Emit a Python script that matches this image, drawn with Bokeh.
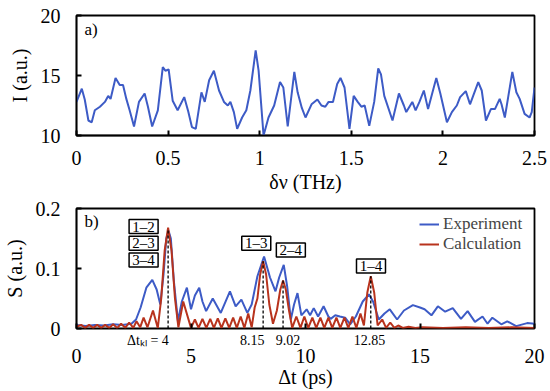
from bokeh.plotting import figure
from bokeh.layouts import column
from bokeh.models import Range1d, FixedTicker, Label, LinearAxis
from bokeh.core.properties import value
from bokeh.embed import file_html
from bokeh.resources import INLINE

FONT = "Liberation Serif"
BLUE = "#3d5bc6"
RED = "#b8331d"

# ---------------- panel a) data ----------------
nu_thz = [0.000, 0.029, 0.045, 0.065, 0.083, 0.100, 0.128, 0.155, 0.173, 0.186,
          0.213, 0.236, 0.254, 0.272, 0.290, 0.314, 0.341, 0.372, 0.390, 0.413,
          0.444, 0.471, 0.485, 0.503, 0.525, 0.552, 0.588, 0.610, 0.630, 0.651,
          0.682, 0.700, 0.724, 0.750, 0.778, 0.805, 0.826, 0.840, 0.859, 0.877,
          0.904, 0.927, 0.949, 0.978, 0.994, 1.021, 1.048, 1.079, 1.111, 1.129,
          1.153, 1.189, 1.207, 1.230, 1.250, 1.283, 1.315, 1.337, 1.358, 1.376,
          1.400, 1.423, 1.441, 1.463, 1.490, 1.513, 1.535, 1.555, 1.573, 1.598,
          1.625, 1.647, 1.662, 1.680, 1.725, 1.760, 1.787, 1.800, 1.833, 1.851,
          1.872, 1.896, 1.919, 1.964, 1.986, 2.022, 2.049, 2.076, 2.094, 2.125,
          2.148, 2.193, 2.212, 2.235, 2.262, 2.284, 2.310, 2.320, 2.338, 2.379,
          2.401, 2.419, 2.446, 2.473, 2.485, 2.500]
intensity = [12.8, 13.9, 13.0, 11.25, 11.1, 12.1, 12.4, 12.8, 13.3, 13.05,
             14.8, 14.2, 14.2, 13.05, 12.1, 10.75, 12.8, 13.5, 12.4, 10.75,
             12.1, 15.7, 15.4, 15.5, 12.9, 12.1, 13.2, 12.0, 10.7, 10.55,
             13.6, 12.8, 14.6, 15.4, 13.75, 12.8, 12.5, 12.8, 11.95, 10.55,
             11.5, 12.1, 13.75, 17.1, 15.4, 10.0, 11.5, 12.5, 14.45, 14.0,
             10.75, 15.3, 13.6, 12.3, 11.5, 12.6, 13.0, 12.5, 12.4, 12.8,
             12.8, 14.3, 14.8, 14.0, 10.55, 13.3, 12.8, 12.4, 12.5, 10.8,
             12.8, 15.6, 15.1, 13.3, 11.25, 13.5, 12.5, 11.95, 12.8, 12.1,
             12.8, 13.75, 12.2, 14.8, 13.5, 11.1, 11.95, 12.5, 13.2, 13.7,
             12.6, 14.45, 13.75, 11.25, 12.2, 12.2, 13.05, 12.6, 11.5, 15.3,
             13.6, 13.05, 11.8, 11.5, 11.95, 14.0]
nu_ticks = [0, 0.5, 1, 1.5, 2, 2.5]
nu_tick_labels = ["0", "0.5", "1", "1.5", "2", "2.5"]
i_ticks = [10, 15, 20]
i_tick_labels = ["10", "15", "20"]

# ---------------- panel b) data ----------------
t_exp = [0.0, 0.4, 0.8, 1.2, 1.6, 2.0, 2.4, 2.6, 2.8, 3.05,
         3.31, 3.50, 3.66, 3.80, 3.92, 4.02, 4.12, 4.25, 4.43, 4.60,
         4.82, 5.00, 5.17, 5.36, 5.50, 5.66, 5.95, 6.30, 6.70, 6.95,
         7.20, 7.46, 7.65, 7.90, 8.19, 8.45, 8.69, 8.85, 9.05, 9.20,
         9.36, 9.50, 9.65, 9.82, 10.05, 10.20, 10.36, 10.55, 10.79, 11.00,
         11.10, 11.30, 11.50, 11.73, 11.95, 12.20, 12.50, 12.77, 12.95, 13.20,
         13.45, 13.68, 14.00, 14.30, 14.69, 15.00, 15.20, 15.50, 15.78, 16.10,
         16.43, 16.79, 17.08, 17.40, 17.73, 17.95, 18.16, 18.55, 18.81, 19.20,
         19.68, 20.0]
s_exp = [0.006, 0.004, 0.006, 0.005, 0.007, 0.006, 0.008, 0.015, 0.035, 0.068,
         0.081, 0.065, 0.040, 0.090, 0.150, 0.163, 0.150, 0.080, 0.012, 0.045,
         0.068, 0.032, 0.055, 0.068, 0.045, 0.029, 0.050, 0.026, 0.062, 0.037,
         0.048, 0.026, 0.040, 0.087, 0.120, 0.085, 0.062, 0.085, 0.106, 0.070,
         0.015, 0.040, 0.059, 0.022, 0.032, 0.022, 0.034, 0.020, 0.037, 0.020,
         0.016, 0.022, 0.020, 0.018, 0.007, 0.020, 0.045, 0.057, 0.045, 0.015,
         0.025, 0.032, 0.015, 0.030, 0.039, 0.035, 0.032, 0.022, 0.037, 0.028,
         0.034, 0.016, 0.029, 0.011, 0.020, 0.008, 0.018, 0.007, 0.012, 0.004,
         0.009, 0.008]

t_calc = [0.0, 0.2, 0.38, 0.55, 0.73, 0.9, 1.08, 1.25, 1.43, 1.6,
          1.78, 1.95, 2.13, 2.3, 2.48, 2.62, 2.78, 2.93, 3.1, 3.34,
          3.55, 3.7, 3.85, 4.0, 4.15, 4.3, 4.45, 4.66, 5.0, 5.17,
          5.33, 5.5, 5.67, 5.84, 6.0, 6.17, 6.33, 6.5, 6.67, 6.84,
          7.0, 7.17, 7.33, 7.5, 7.65, 7.78, 7.9, 8.02, 8.15, 8.28,
          8.42, 8.58, 8.75, 8.9, 9.02, 9.14, 9.28, 9.42, 9.6, 9.78,
          9.95, 10.12, 10.3, 10.47, 10.65, 10.82, 11.0, 11.17, 11.35, 11.52,
          11.7, 11.87, 12.05, 12.22, 12.4, 12.55, 12.7, 12.85, 13.0, 13.15,
          13.35, 13.52, 13.7, 13.88, 14.05, 14.25, 14.5, 14.8, 15.1, 16.0,
          17.0, 18.0, 19.0, 20.0]
s_calc = [0.003, 0.006, 0.001, 0.006, 0.001, 0.006, 0.001, 0.006, 0.001, 0.007,
          0.001, 0.008, 0.001, 0.010, 0.001, 0.012, 0.002, 0.018, 0.002, 0.030,
          0.001, 0.050, 0.130, 0.168, 0.130, 0.050, 0.002, 0.045, 0.001, 0.015,
          0.001, 0.016, 0.001, 0.016, 0.001, 0.017, 0.001, 0.017, 0.001, 0.018,
          0.001, 0.020, 0.001, 0.025, 0.002, 0.035, 0.050, 0.090, 0.112, 0.090,
          0.040, 0.008, 0.030, 0.065, 0.080, 0.065, 0.030, 0.001, 0.020, 0.001,
          0.020, 0.001, 0.018, 0.001, 0.018, 0.001, 0.018, 0.001, 0.018, 0.001,
          0.018, 0.001, 0.020, 0.001, 0.025, 0.005, 0.060, 0.087, 0.060, 0.005,
          0.015, 0.001, 0.010, 0.001, 0.005, 0.001, 0.003, 0.001, 0.002, 0.001,
          0.002, 0.001, 0.002, 0.001]

t_ticks = [0, 5, 10, 15, 20]
t_tick_labels = ["0", "5", "10", "15", "20"]
s_ticks = [0, 0.1, 0.2]
s_tick_labels = ["0", "0.1", "0.2"]

peak_t = [4, 8.15, 9.02, 12.85]
peak_s = [0.166, 0.112, 0.080, 0.087]
peak_text = ["Δtₖₗ = 4", "8.15", "9.02", "12.85"]
peak_text_shift = [-0.88, -0.48, 0.22, -0.05]   # label placement (style)

pair_text = ["1–2", "2–3", "3–4", "1–3", "2–4", "1–4"]
pair_t = [2.93, 2.93, 2.93, 7.85, 9.36, 12.86]
pair_s = [0.170, 0.142, 0.114, 0.142, 0.131, 0.104]


def tick_style(ax, size="20px"):
    ax.axis_line_width = 1.5
    ax.axis_line_color = "black"
    ax.major_tick_in = 5
    ax.major_tick_out = 0
    ax.major_tick_line_width = 2
    ax.minor_tick_in = 0
    ax.minor_tick_out = 0
    ax.major_label_text_font = FONT
    ax.major_label_text_font_size = size
    ax.major_label_text_color = "black"
    ax.axis_label_text_font = FONT
    ax.axis_label_text_font_size = "20px"
    ax.axis_label_text_font_style = "normal"
    ax.axis_label_text_color = "black"


def frame_style(p):
    p.outline_line_color = "black"
    p.outline_line_width = 1.8
    p.grid.visible = False


def panel_label(p, text, y):
    p.add_layout(Label(x=8, y=y, x_units="screen", y_units="screen", text=text,
                       text_font=FONT, text_font_size="17px",
                       text_align="left", text_baseline="middle",
                       text_color="black"))


# ---------------- panel a) ----------------
p1 = figure(width=550, height=197, output_backend="svg", toolbar_location=None,
            x_range=Range1d(nu_ticks[0], nu_ticks[-1]),
            y_range=Range1d(i_ticks[0], i_ticks[-1]),
            min_border_left=73, min_border_right=16, min_border_top=15,
            min_border_bottom=62)
p1.line(nu_thz, intensity, line_color=BLUE, line_width=2)
frame_style(p1)
xa, ya = p1.xaxis[0], p1.yaxis[0]
tick_style(xa)
tick_style(ya)
xa.ticker = FixedTicker(ticks=nu_ticks)
xa.major_label_overrides = {k: v for k, v in zip(nu_ticks, nu_tick_labels)}
xa.major_label_standoff = 15
xa.axis_label = "δν (THz)"
xa.axis_label_standoff = 3
ya.ticker = FixedTicker(ticks=i_ticks)
ya.major_label_overrides = {k: v for k, v in zip(i_ticks, i_tick_labels)}
ya.major_label_standoff = 16
ya.axis_label = "I (a.u.)"
ya.axis_label_standoff = 7
panel_label(p1, "a)", 106)

# ---------------- panel b) ----------------
p2 = figure(width=550, height=194, output_backend="svg", toolbar_location=None,
            x_range=Range1d(t_ticks[0], t_ticks[-1]),
            y_range=Range1d(s_ticks[0], s_ticks[-1]),
            x_axis_location=None,
            min_border_left=73, min_border_right=16, min_border_top=11,
            min_border_bottom=63)
p2.line(t_exp, s_exp, line_color=BLUE, line_width=2, legend_label="Experiment")
p2.line(t_calc, s_calc, line_color=RED, line_width=2, legend_label="Calculation")
p2.segment(x0=peak_t, y0=[0] * len(peak_t), x1=peak_t, y1=peak_s,
           line_color="black", line_dash="3 2", line_width=1.3)
p2.rect(x=pair_t, y=pair_s, width=29, height=14, width_units="screen",
        height_units="screen", fill_color="white", line_color="black",
        line_width=1.5)
p2.text(x=pair_t, y=pair_s, text=pair_text, text_font=value(FONT),
        text_font_size="15px", text_align="center", text_baseline="middle",
        text_color="black")
frame_style(p2)

# axis right under the frame: inward ticks + the peak annotations
label_pos = [round(t + d, 2) for t, d in zip(peak_t, peak_text_shift)]
peak_axis = LinearAxis(ticker=FixedTicker(ticks=label_pos, minor_ticks=t_ticks))
tick_style(peak_axis, size="14px")
peak_axis.axis_line_alpha = 0
peak_axis.major_tick_in = 0
peak_axis.minor_tick_in = 5
peak_axis.minor_tick_line_width = 2
peak_axis.minor_tick_line_color = "black"
peak_axis.major_label_standoff = 4
peak_axis.major_label_overrides = {k: v for k, v in zip(label_pos, peak_text)}
p2.add_layout(peak_axis, "below")

# main time axis
t_axis = LinearAxis(ticker=FixedTicker(ticks=t_ticks))
tick_style(t_axis)
t_axis.axis_line_alpha = 0
t_axis.major_tick_in = 0
t_axis.major_label_standoff = -2
t_axis.major_label_overrides = {k: v for k, v in zip(t_ticks, t_tick_labels)}
t_axis.axis_label = "Δt (ps)"
t_axis.axis_label_standoff = 0
p2.add_layout(t_axis, "below")

yb = p2.yaxis[0]
tick_style(yb)
yb.ticker = FixedTicker(ticks=s_ticks)
yb.major_label_overrides = {k: v for k, v in zip(s_ticks, s_tick_labels)}
yb.major_label_standoff = 16
yb.axis_label = "S (a.u.)"
yb.axis_label_standoff = 7

leg = p2.legend[0]
leg.location = (343, 74)
leg.margin = 0
leg.padding = 0
leg.spacing = 0
leg.border_line_alpha = 0
leg.background_fill_alpha = 0
leg.glyph_width = 20
leg.glyph_height = 20
leg.label_height = 20
leg.label_standoff = 4
leg.label_text_font = FONT
leg.label_text_font_size = "17px"
panel_label(p2, "b)", 107)

layout = column(p1, p2)
open("out.html", "w").write(file_html(layout, INLINE))
